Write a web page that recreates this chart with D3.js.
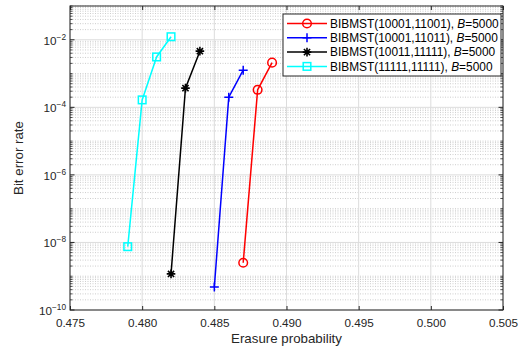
<!DOCTYPE html>
<html><head><meta charset="utf-8">
<script src="https://cdn.jsdelivr.net/npm/d3@7"></script>
<style>body{margin:0;background:#fff}svg{display:block}text{font-family:"Liberation Sans",Arial,sans-serif}</style>
</head><body><svg id="c" width="531" height="352"></svg>
<script>
const seriesNames = ["BIBMST(10001,11001)", "BIBMST(10001,11011)", "BIBMST(10011,11111)", "BIBMST(11111,11111)"];
const seriesColors = ["#ff0000", "#0000ff", "#000000", "#00ffff"];
const seriesMarkers = ["circle", "plus", "star", "square"];
const xRed = [0.487, 0.488, 0.489];
const yRed = [2.5e-9, 3.3e-4, 2.1e-3];
const xBlue = [0.485, 0.486, 0.487];
const yBlue = [4.8e-10, 2.0e-4, 1.26e-3];
const xBlack = [0.482, 0.483, 0.484];
const yBlack = [1.17e-9, 3.7e-4, 4.6e-3];
const xCyan = [0.479, 0.480, 0.481, 0.482];
const yCyan = [7.5e-9, 1.66e-4, 3.1e-3, 1.23e-2];
const xTicks = [0.475, 0.480, 0.485, 0.490, 0.495, 0.500, 0.505];
const yTickExps = [-10, -8, -6, -4, -2];
const xLabel = "Erasure probability";
const yLabel = "Bit error rate";

const series = [
  {x: xRed, y: yRed}, {x: xBlue, y: yBlue}, {x: xBlack, y: yBlack}, {x: xCyan, y: yCyan}
].map((s, i) => ({...s, name: seriesNames[i], color: seriesColors[i], marker: seriesMarkers[i]}));

const L = 70, R = 503, T = 6, B = 310;
const svg = d3.select("#c");
const x = d3.scaleLinear().domain([0.475, 0.505]).range([L, R]);
const y = d3.scaleLog().domain([1e-10, 1e-1]).range([B, T]);

// minor grid
const minor = [];
for (let e = -10; e < -1; e++) for (let k = 2; k <= 9; k++) minor.push(k * Math.pow(10, e));
const oddMajors = [];
for (let e = -9; e <= -1; e += 2) oddMajors.push(Math.pow(10, e));
const minorAll = minor.concat(oddMajors);
const g = svg.append("g");
g.selectAll("line.mg").data(minorAll).join("line")
  .attr("x1", L).attr("x2", R).attr("y1", d => y(d)).attr("y2", d => y(d))
  .attr("stroke", "#b8b8b8").attr("stroke-width", 0.7).attr("stroke-dasharray", "1,1.5");
// major grid
g.selectAll("line.hg").data(yTickExps.map(e => Math.pow(10, e))).join("line")
  .attr("x1", L).attr("x2", R).attr("y1", d => y(d)).attr("y2", d => y(d))
  .attr("stroke", "#dcdcdc").attr("stroke-width", 1);
g.selectAll("line.vg").data(xTicks).join("line")
  .attr("x1", d => x(d)).attr("x2", d => x(d)).attr("y1", T).attr("y2", B)
  .attr("stroke", "#dcdcdc").attr("stroke-width", 1);

// axes
const fs = 11.7;
const xAxis = d3.axisBottom(x).tickValues(xTicks).tickFormat(d3.format(".3f")).tickSizeInner(-4).tickSizeOuter(0).tickPadding(9);
const xa = svg.append("g").attr("transform", `translate(0,${B})`).call(xAxis);
xa.select(".domain").remove();
xa.selectAll("line").attr("stroke", "#262626");
xa.selectAll("text").attr("font-size", fs).attr("fill", "#262626").attr("font-family", "Liberation Sans, Arial");
const xTop = d3.axisTop(x).tickValues(xTicks).tickFormat("").tickSizeInner(-4).tickSizeOuter(0);
const xt = svg.append("g").attr("transform", `translate(0,${T})`).call(xTop);
xt.select(".domain").remove(); xt.selectAll("line").attr("stroke", "#262626");

// y ticks
const yMajors = yTickExps.map(e => Math.pow(10, e));
[L, R].forEach((px, side) => {
  const dir = side === 0 ? 1 : -1;
  svg.append("g").selectAll("line").data(yMajors).join("line")
    .attr("x1", px).attr("x2", px + dir * 4.5).attr("y1", d => y(d)).attr("y2", d => y(d)).attr("stroke", "#262626");
  svg.append("g").selectAll("line").data(minorAll).join("line")
    .attr("x1", px).attr("x2", px + dir * 2.5).attr("y1", d => y(d)).attr("y2", d => y(d)).attr("stroke", "#262626").attr("stroke-width", 0.8);
});
const yl = svg.append("g").selectAll("text").data(yTickExps).join("text")
  .attr("x", L - 4).attr("y", e => y(Math.pow(10, e)) + 5)
  .attr("text-anchor", "end").attr("font-size", fs).attr("fill", "#262626");
yl.append("tspan").text("10");
yl.append("tspan").attr("dy", -5).attr("font-size", 8.3).text(e => "\u2212" + Math.abs(e));

// box
svg.append("rect").attr("x", L).attr("y", T).attr("width", R - L).attr("height", B - T)
  .attr("fill", "none").attr("stroke", "#262626").attr("stroke-width", 1);

// markers
function drawMarker(sel, type, color, cx, cy) {
  if (type === "circle") sel.append("circle").attr("cx", cx).attr("cy", cy).attr("r", 4.3).attr("fill", "none").attr("stroke", color).attr("stroke-width", 1.5);
  else if (type === "square") sel.append("rect").attr("x", cx - 3.8).attr("y", cy - 3.8).attr("width", 7.6).attr("height", 7.6).attr("fill", "none").attr("stroke", color).attr("stroke-width", 1.5);
  else if (type === "plus") sel.append("path").attr("d", `M${cx - 4.5},${cy}H${cx + 4.5}M${cx},${cy - 4.5}V${cy + 4.5}`).attr("stroke", color).attr("stroke-width", 1.5);
  else if (type === "star") {
    const r = 4.3, d = r * 0.72;
    sel.append("path").attr("d", `M${cx - r},${cy}H${cx + r}M${cx},${cy - r}V${cy + r}M${cx - d},${cy - d}L${cx + d},${cy + d}M${cx - d},${cy + d}L${cx + d},${cy - d}`).attr("stroke", color).attr("stroke-width", 1.6);
  }
}
const line = d3.line().x(d => x(d[0])).y(d => y(d[1]));
series.forEach(s => {
  const pts = s.x.map((v, i) => [v, s.y[i]]);
  const sg = svg.append("g");
  sg.append("path").attr("d", line(pts)).attr("fill", "none").attr("stroke", s.color).attr("stroke-width", 1.5);
  pts.forEach(p => drawMarker(sg, s.marker, s.color, x(p[0]), y(p[1])));
});

// legend
const lx = 283, ly = 14, lw = 218, lh = 62;
const lg = svg.append("g");
lg.append("rect").attr("x", lx).attr("y", ly).attr("width", lw).attr("height", lh).attr("fill", "#fff").attr("stroke", "#262626").attr("stroke-width", 1);
series.forEach((s, i) => {
  const ry = ly + 9.5 + i * 14.3;
  lg.append("line").attr("x1", lx + 4).attr("x2", lx + 44).attr("y1", ry).attr("y2", ry).attr("stroke", s.color).attr("stroke-width", 1.5);
  drawMarker(lg, s.marker, s.color, lx + 24, ry);
  const t = lg.append("text").attr("x", lx + 47).attr("y", ry + 4.3).attr("font-size", 11.9).attr("fill", "#000");
  t.append("tspan").text(s.name + ", ");
  t.append("tspan").attr("font-style", "italic").text("B");
  t.append("tspan").text("=5000");
});

// labels
svg.append("text").attr("x", (L + R) / 2).attr("y", 343).attr("text-anchor", "middle").attr("font-size", 13.3).attr("fill", "#262626").text(xLabel);
svg.append("text").attr("transform", `translate(23,${(T + B) / 2}) rotate(-90)`).attr("text-anchor", "middle").attr("font-size", 13.3).attr("fill", "#262626").text(yLabel);
</script></body></html>
